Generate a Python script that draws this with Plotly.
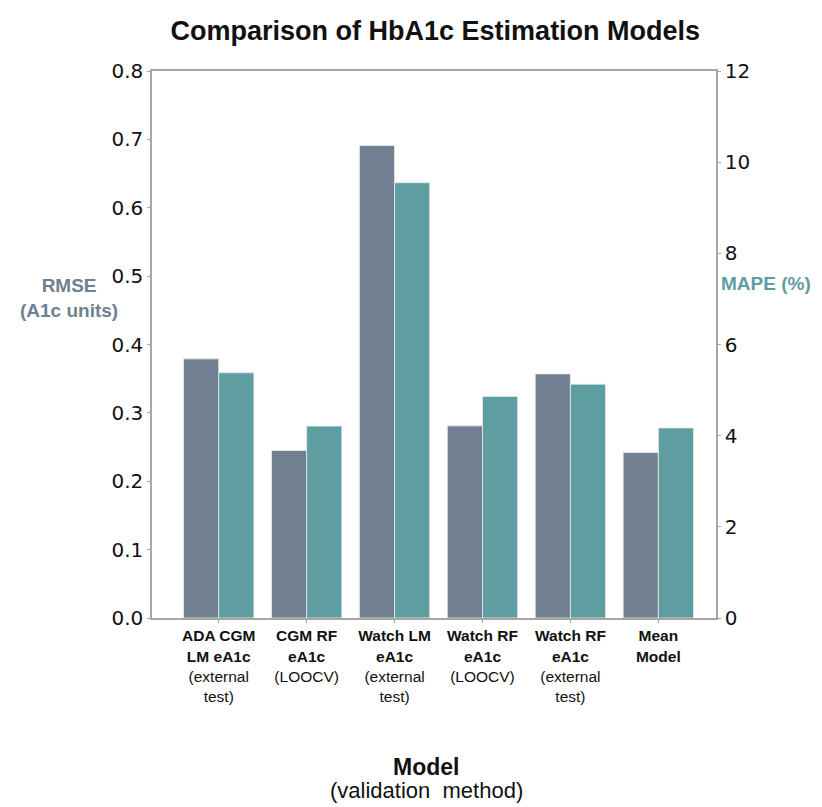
import plotly.graph_objects as go

categories = ["ADA CGM LM eA1c", "CGM RF eA1c", "Watch LM eA1c",
              "Watch RF eA1c (LOOCV)", "Watch RF eA1c (external)", "Mean Model"]
tick_labels = [
    "<b>ADA CGM<br>LM eA1c</b><br>(external<br>test)",
    "<b>CGM RF<br>eA1c</b><br>(LOOCV)",
    "<b>Watch LM<br>eA1c</b><br>(external<br>test)",
    "<b>Watch RF<br>eA1c</b><br>(LOOCV)",
    "<b>Watch RF<br>eA1c</b><br>(external<br>test)",
    "<b>Mean<br>Model</b>",
]
rmse = [0.379, 0.245, 0.691, 0.281, 0.357, 0.242]
mape = [5.38, 4.21, 9.55, 4.86, 5.13, 4.17]

GRAY = "#708090"
TEAL = "#5f9ea0"
AXC = "#a6a6a6"
FONT = "Liberation Sans, Arial, sans-serif"
TICKFONT = "DejaVu Sans, sans-serif"

fig = go.Figure()
fig.add_trace(go.Bar(x=categories, y=rmse, name="RMSE", marker_color=GRAY,
                     marker_line=dict(color="#e8eef0", width=0.8),
                     width=0.4, offset=-0.4, yaxis="y"))
fig.add_trace(go.Bar(x=categories, y=mape, name="MAPE", marker_color=TEAL,
                     marker_line=dict(color="#e8eef0", width=0.8),
                     width=0.4, offset=0.0, yaxis="y2"))

fig.update_layout(
    width=814, height=799,
    paper_bgcolor="white", plot_bgcolor="white",
    margin=dict(l=144, r=106, t=63, b=189),
    showlegend=False,
    title=dict(text="<b>Comparison of HbA1c Estimation Models</b>",
               x=0.525, xanchor="center", y=0.972, yanchor="middle",
               font=dict(family=FONT, size=27, color="#111")),
    xaxis=dict(range=[-0.759, 5.656], tickmode="array", tickvals=categories,
               ticktext=tick_labels, showline=True, linecolor=AXC, linewidth=1.5,
               mirror=True, ticks="outside", ticklen=3, tickcolor=AXC,
               tickfont=dict(family=FONT, size=15.5, color="#111"),
               showgrid=False, zeroline=False),
    yaxis=dict(range=[0, 0.8], tickvals=[0, 0.1, 0.2, 0.3, 0.4, 0.5, 0.6, 0.7, 0.8],
               ticktext=["0.0", "0.1", "0.2", "0.3", "0.4", "0.5", "0.6", "0.7", "0.8"],
               showline=True, linecolor=AXC, linewidth=1.5, ticks="outside",
               ticklen=3, tickcolor=AXC, showgrid=False, zeroline=False,
               tickfont=dict(family=TICKFONT, size=20, color="#111")),
    yaxis2=dict(range=[0, 12], tickvals=[0, 2, 4, 6, 8, 10, 12], overlaying="y",
                side="right", showline=True, linecolor=AXC, linewidth=1.5,
                ticks="outside", ticklen=3, tickcolor=AXC, showgrid=False,
                zeroline=False, tickfont=dict(family=TICKFONT, size=20, color="#111")),
)

fig.add_annotation(text="<b>RMSE<br>(A1c units)</b>", xref="paper", yref="paper",
                   x=-0.148, y=0.585, xanchor="center", yanchor="middle", showarrow=False,
                   font=dict(family=FONT, size=19, color=GRAY))
fig.add_annotation(text="<b>MAPE (%)</b>", xref="paper", yref="paper",
                   x=1.089, y=0.612, xanchor="center", yanchor="middle", showarrow=False,
                   font=dict(family=FONT, size=19, color=TEAL))
fig.add_annotation(text="<b>Model</b>", xref="paper", yref="paper",
                   x=0.486, y=-0.272, xanchor="center", yanchor="middle", showarrow=False,
                   font=dict(family=FONT, size=23, color="#111"))
fig.add_annotation(text="(validation  method)", xref="paper", yref="paper",
                   x=0.486, y=-0.316, xanchor="center", yanchor="middle", showarrow=False,
                   font=dict(family=FONT, size=22, color="#111"))

fig.write_html("out.html")
